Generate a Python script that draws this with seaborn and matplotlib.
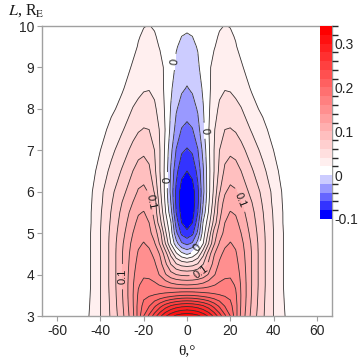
import numpy as np
import matplotlib
matplotlib.use("Agg")
import matplotlib.pyplot as plt
from matplotlib.colors import ListedColormap, BoundaryNorm
import seaborn as sns

# ---- data (field is symmetric in theta; half given) ----
theta_half = [0, 2.5, 5, 7.5, 10, 12.5, 15, 17.5, 20, 22.5, 25, 30, 35, 40, 45, 50, 67]
L_values = [3.0, 3.25, 3.5, 3.75, 4.0, 4.25, 4.5, 4.75, 5.0, 5.25, 5.5, 5.75,
            6.0, 6.5, 7.0, 7.5, 8.0, 8.5, 9.0, 9.5, 9.75, 10.0]
field_half = [
    [0.335, 0.332, 0.325, 0.313, 0.297, 0.275, 0.250, 0.224, 0.200, 0.168, 0.135, 0.093, 0.063, 0.040, 0.021, 0.005, 0.005],
    [0.275, 0.273, 0.268, 0.260, 0.248, 0.232, 0.215, 0.198, 0.186, 0.167, 0.138, 0.096, 0.064, 0.040, 0.020, 0.005, 0.005],
    [0.200, 0.199, 0.196, 0.192, 0.188, 0.184, 0.181, 0.178, 0.175, 0.163, 0.139, 0.098, 0.065, 0.040, 0.019, 0.005, 0.005],
    [0.140, 0.141, 0.143, 0.147, 0.153, 0.159, 0.164, 0.166, 0.166, 0.158, 0.138, 0.099, 0.066, 0.040, 0.018, 0.005, 0.005],
    [0.095, 0.096, 0.100, 0.108, 0.122, 0.138, 0.150, 0.156, 0.157, 0.150, 0.136, 0.099, 0.066, 0.040, 0.018, 0.005, 0.005],
    [0.050, 0.053, 0.062, 0.080, 0.105, 0.128, 0.143, 0.151, 0.152, 0.146, 0.133, 0.099, 0.066, 0.040, 0.018, 0.005, 0.005],
    [-0.003, 0.006, 0.024, 0.055, 0.090, 0.118, 0.135, 0.145, 0.147, 0.142, 0.130, 0.099, 0.066, 0.040, 0.018, 0.005, 0.005],
    [-0.045, -0.037, -0.012, 0.020, 0.060, 0.097, 0.122, 0.136, 0.141, 0.137, 0.126, 0.097, 0.066, 0.040, 0.018, 0.005, 0.005],
    [-0.075, -0.065, -0.035, 0.010, 0.045, 0.088, 0.110, 0.126, 0.134, 0.131, 0.120, 0.093, 0.065, 0.040, 0.018, 0.005, 0.005],
    [-0.090, -0.080, -0.049, 0.002, 0.032, 0.068, 0.100, 0.120, 0.128, 0.125, 0.114, 0.089, 0.063, 0.039, 0.017, 0.005, 0.005],
    [-0.098, -0.088, -0.060, -0.012, 0.022, 0.058, 0.093, 0.113, 0.121, 0.118, 0.108, 0.085, 0.061, 0.038, 0.017, 0.005, 0.005],
    [-0.100, -0.091, -0.065, -0.020, 0.017, 0.050, 0.090, 0.105, 0.112, 0.110, 0.100, 0.080, 0.058, 0.036, 0.016, 0.005, 0.005],
    [-0.097, -0.089, -0.065, -0.025, 0.014, 0.045, 0.078, 0.098, 0.105, 0.102, 0.092, 0.074, 0.055, 0.035, 0.015, 0.005, 0.005],
    [-0.080, -0.074, -0.054, -0.022, 0.014, 0.040, 0.065, 0.084, 0.090, 0.088, 0.080, 0.062, 0.045, 0.028, 0.010, 0.005, 0.005],
    [-0.062, -0.057, -0.041, -0.014, 0.016, 0.040, 0.060, 0.072, 0.076, 0.073, 0.066, 0.050, 0.035, 0.020, 0.006, 0.005, 0.005],
    [-0.045, -0.041, -0.027, -0.005, 0.019, 0.038, 0.053, 0.060, 0.061, 0.058, 0.052, 0.038, 0.026, 0.012, 0.005, 0.005, 0.005],
    [-0.032, -0.028, -0.018, -0.001, 0.017, 0.033, 0.043, 0.048, 0.049, 0.046, 0.041, 0.026, 0.016, 0.006, 0.005, 0.005, 0.005],
    [-0.021, -0.017, -0.009, 0.003, 0.016, 0.028, 0.036, 0.039, 0.038, 0.034, 0.029, 0.018, 0.008, 0.005, 0.005, 0.005, 0.005],
    [-0.012, -0.009, -0.003, 0.008, 0.017, 0.025, 0.030, 0.031, 0.030, 0.026, 0.022, 0.012, 0.006, 0.005, 0.005, 0.005, 0.005],
    [-0.005, -0.003, 0.001, 0.007, 0.014, 0.019, 0.024, 0.025, 0.024, 0.021, 0.016, 0.008, 0.005, 0.005, 0.005, 0.005, 0.005],
    [-0.001, 0.000, 0.002, 0.006, 0.011, 0.0165, 0.0215, 0.023, 0.022, 0.019, 0.0145, 0.0075, 0.005, 0.005, 0.005, 0.005, 0.005],
    [0.002, 0.002, 0.003, 0.005, 0.009, 0.014, 0.0185, 0.0205, 0.0195, 0.017, 0.013, 0.007, 0.005, 0.005, 0.005, 0.005, 0.005],
]
x_ticks = [-60, -40, -20, 0, 20, 40, 60]
y_ticks = [3, 4, 5, 6, 7, 8, 9, 10]
cbar_ticks = [-0.1, 0, 0.1, 0.2, 0.3]
cbar_ticklabels = ['-0.1', '0', '0.1', '0.2', '0.3']
labelled_levels = [0.0, 0.1]
label_positions = [(-8.8, 6.28), (5.1, 4.62), (-5.2, 9.13), (7.4, 7.47),
                   (-16.0, 5.75), (24.5, 5.8), (6.8, 4.04), (-29.5, 3.95)]

# ---- style ----
sns.set_theme(style="white")
plt.rcParams['font.family'] = ['Liberation Sans', 'DejaVu Sans']
plt.rcParams['axes.unicode_minus'] = False
plt.rcParams['mathtext.fontset'] = 'stix'
plt.rcParams['contour.negative_linestyle'] = 'solid'

theta = np.array(theta_half)
Zh = np.array(field_half)
theta_full = np.concatenate([-theta[:0:-1], theta])
Z = np.concatenate([Zh[:, :0:-1], Zh], axis=1)
L = np.array(L_values)

levels = np.round(np.arange(-0.10, 0.3401, 0.02), 2)
blue = [(1 - f, 1 - f, 1.0) for f in [1.0, 0.8, 0.6, 0.4, 0.2]]
red = [(1.0, 1 - f, 1 - f) for f in np.arange(17) / 16.0]
cmap = ListedColormap(blue + red)
norm = BoundaryNorm(levels, cmap.N)

fig = plt.figure(figsize=(3.6, 3.59), dpi=100)
ax = fig.add_axes([42 / 360, 1 - 316 / 359, 290 / 360, 290 / 359])
cf = ax.contourf(theta_full, L, Z, levels=levels, cmap=cmap, norm=norm)
plain_levels = [lv for lv in levels if min(abs(lv - t) for t in labelled_levels) > 1e-9]
ax.contour(theta_full, L, Z, levels=plain_levels, colors='0.2', linewidths=0.6,
           linestyles='solid')
cs_lab = ax.contour(theta_full, L, Z, levels=labelled_levels, colors='0.2',
                    linewidths=0.6, linestyles='solid')


def fmt(v):
    return '0' if abs(v) < 1e-9 else '%.1f' % v


ax.clabel(cs_lab, manual=label_positions, inline=True, fontsize=8, fmt=fmt, colors='k')

ax.set_xlim(-67, 67)
ax.set_ylim(3, 10)
ax.set_xticks(x_ticks)
ax.set_yticks(y_ticks)
ax.set_xticklabels([str(t) for t in x_ticks])
ax.set_yticklabels([str(t) for t in y_ticks])
for sp in ax.spines.values():
    sp.set_color('#a0a0a0')
    sp.set_linewidth(1.0)
ax.tick_params(bottom=True, left=True, direction='out', length=3.5, width=0.8,
               color='#a0a0a0', labelsize=10, labelcolor='0.15', pad=2)

cax = fig.add_axes([320 / 360, 1 - 219 / 359, 12 / 360, 193 / 359])
cb = fig.colorbar(cf, cax=cax, ticks=cbar_ticks)
cb.ax.set_yticklabels(cbar_ticklabels)
cb.outline.set_visible(False)
cb.ax.tick_params(length=0, labelsize=10, labelcolor='0.15', pad=2)

fig.text(8 / 360, 1 - 2 / 359, r"$L$, R$_\mathrm{E}$", ha='left', va='top',
         fontsize=11.5, family=['Liberation Serif', 'DejaVu Serif'], color='0.1')
fig.text(187 / 360, 1 - 351 / 359, "θ,°", ha='center', va='center',
         fontsize=11, family=['Liberation Serif', 'DejaVu Serif'], color='0.1')

fig.savefig('out.png', dpi=100)
